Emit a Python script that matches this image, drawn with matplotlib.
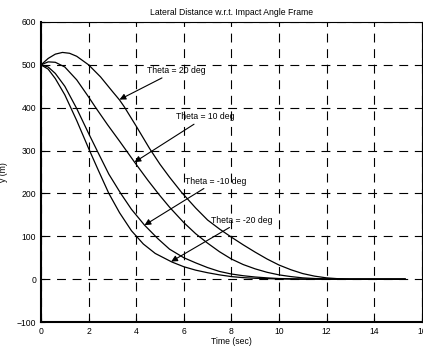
import numpy as np
import matplotlib
matplotlib.use('Agg')
import matplotlib.pyplot as plt

# font settings
plt.rcParams['font.family'] = ['Liberation Sans', 'DejaVu Sans']
fs = 6.2

# data (time in sec, y in m)
t_p20 = [0, 0.3, 0.6, 0.9, 1.2, 1.5, 2.0, 2.5, 3.0, 3.3, 3.5, 4.0, 4.56, 5.0, 5.4, 5.9,
         6.5, 7.0, 7.5, 8.0, 8.5, 9.0, 9.5, 10.0, 10.5, 11.0, 11.5, 12.0, 12.5, 13.0, 14.0, 15.3]
y_p20 = [500, 515, 525, 529, 527, 520, 500, 472, 438, 418, 402, 357, 305, 268, 238, 203,
         166, 138, 117, 98, 80, 63, 47, 33, 22, 13, 7, 3, 1, 0, 0, 0]

t_p10 = [0, 0.3, 0.6, 1.0, 1.5, 2.0, 2.3, 2.8, 3.3, 3.93, 4.5, 4.95, 5.4, 6.0, 6.5, 7.0,
         7.5, 8.0, 8.5, 9.0, 9.5, 10.0, 10.5, 11.0, 11.5, 12.0, 13.0, 15.3]
y_p10 = [500, 507, 506, 495, 465, 425, 400, 360, 322, 273, 230, 198, 168, 132, 106, 84,
         64, 47, 34, 24, 16, 10, 6, 3, 1.5, 0.5, 0, 0]

t_m10 = [0, 0.3, 0.6, 1.0, 1.5, 2.0, 2.4, 2.85, 3.35, 3.8, 4.35, 4.9, 5.4, 6.0, 6.5, 7.0,
         7.5, 8.0, 8.5, 9.0, 9.5, 10.0, 11.0, 12.0, 15.3]
y_m10 = [500, 495, 480, 450, 398, 340, 295, 245, 200, 163, 126, 95, 70, 50, 38, 27,
         18, 12, 8, 5, 3, 1.5, 0.3, 0, 0]

t_m20 = [0, 0.3, 0.6, 1.0, 1.5, 2.0, 2.4, 2.85, 3.3, 3.8, 4.3, 4.8, 5.5, 6.0, 6.5, 7.0,
         7.5, 8.0, 8.5, 9.0, 10.0, 11.0, 15.3]
y_m20 = [500, 490, 468, 430, 370, 305, 255, 200, 155, 113, 82, 60, 40, 29, 21, 15,
         10, 6, 3.5, 2, 0.5, 0, 0]

# annotations: label, text position, arrow tip
labels = ['Theta = 20 deg', 'Theta = 10 deg', 'Theta = -10 deg', 'Theta = -20 deg']
text_pos = [(4.45, 476), (5.68, 368), (6.05, 218), (7.15, 127)]
tips = [(3.3, 419), (3.93, 273), (4.35, 126), (5.47, 41)]

fig = plt.figure(figsize=(4.23, 3.47), dpi=100)
ax = fig.add_axes([0.097, 0.072, 0.9, 0.8646])

for t, y in [(t_p20, y_p20), (t_p10, y_p10), (t_m10, y_m10), (t_m20, y_m20)]:
    ax.plot(t, y, color='black', linewidth=0.9)

for lab, pos, tip in zip(labels, text_pos, tips):
    ax.annotate(lab, xy=tip, xytext=pos, fontsize=fs, ha='left', va='bottom',
                arrowprops=dict(arrowstyle='-|>', color='black', lw=0.8,
                                mutation_scale=9, shrinkA=0, shrinkB=0))

ax.set_xlim(0, 16)
ax.set_ylim(-100, 600)
ax.set_xticks(np.arange(0, 17, 2))
ax.set_yticks(np.arange(-100, 601, 100))
ax.grid(True, color='black', linestyle=(0, (8, 6)), linewidth=0.8)
ax.tick_params(direction='in', length=3, labelsize=fs, width=0.8)

for side in ['left', 'bottom']:
    ax.spines[side].set_linewidth(1.5)
for side in ['top', 'right']:
    ax.spines[side].set_linewidth(0.8)

ax.set_title('Lateral Distance w.r.t. Impact Angle Frame', fontsize=fs, pad=5)
ax.set_xlabel('Time (sec)', fontsize=fs, labelpad=1)
ax.set_ylabel('y (m)', fontsize=fs, labelpad=6)

fig.savefig('out.png', dpi=100)
